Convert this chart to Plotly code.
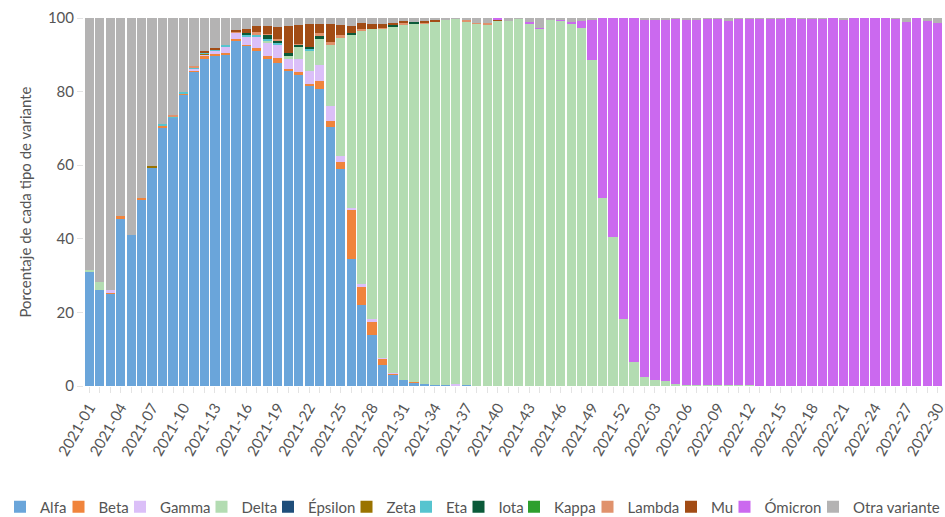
import plotly.graph_objects as go

weeks = [f"2021-{i:02d}" for i in range(1, 53)] + [f"2022-{i:02d}" for i in range(1, 31)]

alfa = [31.2, 26.0, 25.0, 45.5, 41.1, 50.8, 59.5, 70.3, 73.0, 79.0,
        85.4, 89.1, 89.7, 90.1, 93.8, 92.4, 91.1, 88.8, 87.7, 85.6,
        84.5, 81.6, 80.8, 70.3, 59.0, 34.4, 22.0, 13.8, 5.7, 3.0,
        1.5, 0.9, 0.5, 0.3, 0.2, 0.2, 0.3, 0, 0, 0,
        0, 0, 0, 0, 0, 0, 0, 0, 0, 0,
        0, 0, 0, 0, 0, 0, 0, 0, 0, 0,
        0, 0, 0, 0, 0, 0, 0, 0, 0, 0,
        0, 0, 0, 0, 0, 0, 0, 0, 0, 0,
        0, 0]
beta = [0, 0, 0.3, 0.6, 0, 0.4, 0, 0.5, 0, 0.6,
        0.4, 0.45, 0.5, 0.45, 0.5, 0.4, 0.8, 0.9, 1.5, 0.5,
        0.7, 0.6, 2.1, 1.8, 2.0, 13.5, 5.0, 3.6, 1.7, 0.3,
        0, 0.3, 0, 0, 0, 0, 0, 0, 0, 0,
        0, 0, 0, 0, 0, 0, 0, 0, 0, 0,
        0, 0, 0, 0, 0, 0, 0, 0, 0, 0,
        0, 0, 0, 0, 0, 0, 0, 0, 0, 0,
        0, 0, 0, 0, 0, 0, 0, 0, 0, 0,
        0, 0]
gamma = [0, 0, 0.8, 0, 0, 0, 0, 0, 0, 0,
         0.4, 0.6, 0.9, 1.5, 1.8, 2.2, 3.0, 3.7, 3.6, 2.7,
         3.7, 3.3, 4.3, 3.9, 1.4, 0.5, 0.6, 0.7, 0.3, 0.2,
         0, 0, 0, 0, 0, 0.3, 0, 0, 0, 0,
         0, 0, 0, 0, 0, 0, 0, 0, 0, 0,
         0, 0, 0, 0, 0, 0, 0, 0, 0, 0,
         0, 0, 0, 0, 0, 0, 0, 0, 0, 0,
         0, 0, 0, 0, 0, 0, 0, 0, 0, 0,
         0, 0]
delta = [0.3, 2.2, 0, 0, 0, 0, 0, 0, 0, 0,
         0, 0, 0, 0, 0, 0, 0, 0.4, 0, 0.9,
         3.3, 5.7, 7.2, 16.9, 32.4, 47.2, 69.1, 78.8, 89.4, 94.2,
         96.8, 97.4, 97.9, 98.8, 99.5, 99.3, 98.7, 98.5, 98.3, 99.2,
         99.3, 99.8, 98.5, 97.1, 99.7, 99.2, 98.6, 97.4, 88.6, 51.1,
         40.5, 18.1, 6.5, 2.5, 1.6, 1.4, 0.5, 0.4, 0.3, 0.3,
         0.3, 0.2, 0.2, 0.2, 0.1, 0.1, 0.1, 0, 0, 0,
         0, 0, 0, 0, 0, 0, 0, 0, 0, 0,
         0, 0]
epsilon = [0] * 82
zeta = [0, 0, 0, 0, 0, 0, 0.3, 0, 0, 0,
        0, 0.2, 0, 0, 0, 0, 0, 0, 0, 0,
        0, 0, 0, 0, 0, 0, 0, 0, 0, 0,
        0, 0, 0, 0, 0, 0, 0, 0, 0, 0,
        0, 0, 0, 0, 0, 0, 0, 0, 0, 0,
        0, 0, 0, 0, 0, 0, 0, 0, 0, 0,
        0, 0, 0, 0, 0, 0, 0, 0, 0, 0,
        0, 0, 0, 0, 0, 0, 0, 0, 0, 0,
        0, 0]
eta = [0, 0, 0, 0, 0, 0, 0, 0.5, 0.3, 0.4,
       0.4, 0.35, 0.35, 0.6, 0, 0.4, 0.6, 0.5, 0.5, 0,
       0, 0.5, 0, 0, 0, 0, 0, 0, 0, 0,
       0, 0, 0, 0, 0, 0, 0, 0, 0, 0,
       0, 0, 0, 0, 0, 0, 0, 0, 0, 0,
       0, 0, 0, 0, 0, 0, 0, 0, 0, 0,
       0, 0, 0, 0, 0, 0, 0, 0, 0, 0,
       0, 0, 0, 0, 0, 0, 0, 0, 0, 0,
       0, 0]
iota = [0, 0, 0, 0, 0, 0, 0, 0, 0, 0,
        0, 0, 0, 0, 0, 0.5, 0, 1.1, 0.7, 0.9,
        0.5, 0.3, 0.6, 0, 0, 0.4, 0, 0, 0, 0.3,
        0, 0.3, 0, 0, 0, 0, 0, 0, 0, 0,
        0, 0, 0, 0, 0, 0, 0, 0, 0, 0,
        0, 0, 0, 0, 0, 0, 0, 0, 0, 0,
        0, 0, 0, 0, 0, 0, 0, 0, 0, 0,
        0, 0, 0, 0, 0, 0, 0, 0, 0, 0,
        0, 0]
kappa = [0] * 82
lambda_ = [0, 0, 0, 0, 0, 0, 0, 0, 0.3, 0,
           0.4, 0, 0, 0, 0.3, 0, 0.8, 0.3, 0.2, 0,
           0.2, 0, 0.9, 0.5, 0.5, 0, 0.3, 0, 0.3, 0,
           0.3, 0, 0.3, 0, 0, 0, 0.5, 0.2, 0.4, 0.2,
           0, 0, 0, 0, 0, 0, 0, 0, 0, 0,
           0, 0, 0, 0, 0, 0, 0, 0, 0, 0,
           0, 0, 0, 0, 0, 0, 0, 0, 0, 0,
           0, 0, 0, 0, 0, 0, 0, 0, 0, 0,
           0, 0]
mu = [0, 0, 0, 0, 0, 0, 0, 0, 0, 0,
      0, 0.4, 0.45, 0, 0.3, 1.2, 1.5, 2.0, 3.4, 7.3,
      5.2, 6.3, 2.4, 4.9, 2.8, 1.9, 1.6, 1.6, 1.0, 0.7,
      0.7, 0, 0.4, 0.4, 0, 0, 0, 0, 0, 0.3,
      0, 0, 0, 0, 0, 0, 0, 0, 0, 0,
      0, 0, 0, 0, 0, 0, 0, 0, 0, 0,
      0, 0, 0, 0, 0, 0, 0, 0, 0, 0,
      0, 0, 0, 0, 0, 0, 0, 0, 0, 0,
      0, 0]
omicron = [0, 0, 0, 0, 0, 0, 0, 0, 0, 0,
           0, 0, 0, 0, 0, 0, 0, 0, 0, 0,
           0, 0, 0, 0, 0, 0, 0, 0, 0, 0,
           0, 0, 0, 0, 0, 0, 0, 0, 0, 0.3,
           0, 0, 0.4, 0.2, 0, 0.3, 0.4, 1.8, 10.9, 48.9,
           59.5, 81.9, 93.5, 97.1, 98.0, 98.3, 99.3, 99.1, 99.4, 99.5,
           99.5, 99.0, 99.6, 99.7, 99.8, 99.7, 99.8, 100, 99.8, 99.8,
           99.8, 100, 99.6, 100, 100, 100, 100, 99.9, 98.9, 100,
           99.1, 98.6]
otra = [68.5, 71.8, 73.9, 53.9, 58.9, 48.8, 40.2, 28.7, 26.4, 20.0,
        13.0, 8.9, 8.1, 7.35, 3.3, 2.9, 2.2, 2.3, 2.4, 2.1,
        1.9, 1.7, 1.7, 1.7, 1.9, 2.1, 1.4, 1.5, 1.6, 1.3,
        0.7, 1.1, 0.9, 0.5, 0.3, 0.2, 0.5, 1.3, 1.3, 0,
        0.7, 0.2, 1.1, 2.7, 0.3, 0.5, 1.0, 0.8, 0.5, 0,
        0, 0, 0, 0.4, 0.4, 0.3, 0.2, 0.5, 0.3, 0.2,
        0.2, 0.8, 0.2, 0.1, 0.1, 0.2, 0.1, 0, 0.2, 0.2,
        0.2, 0, 0.4, 0, 0, 0, 0, 0.1, 1.1, 0,
        0.9, 1.4]

series_names = ["Alfa", "Beta", "Gamma", "Delta", "Épsilon", "Zeta", "Eta",
                "Iota", "Kappa", "Lambda", "Mu", "Ómicron", "Otra variante"]
series_values = [alfa, beta, gamma, delta, epsilon, zeta, eta,
                 iota, kappa, lambda_, mu, omicron, otra]
series_colors = ["#6aa5da", "#f0843c", "#dbbff8", "#b3dcb2", "#1f4e7a", "#9a7300",
                 "#56c4cf", "#0b5a39", "#2e9f2e", "#e0926c", "#a24c15", "#cb69ef", "#b4b3b3"]
# left edge (pixels) of each single-entry legend box along the bottom row
legend_left_px = [0, 58.5, 120, 201.5, 268, 346.5, 406, 458.5, 514, 587.5, 671, 724.5, 813]

W, H = 945, 517
fig = go.Figure()
legend_layouts = {}
for i, (name, vals, color) in enumerate(zip(series_names, series_values, series_colors)):
    lg = "legend" if i == 0 else f"legend{i + 1}"
    fig.add_trace(go.Bar(
        x=weeks, y=vals, name=name, legend=lg, showlegend=True,
        marker=dict(color=color, line=dict(width=0)),
    ))
    legend_layouts[lg] = dict(
        orientation="h",
        xref="container", yref="container",
        x=legend_left_px[i] / W, xanchor="left",
        y=(H - 507) / H, yanchor="middle",
        font=dict(size=15, color="#555555"),
        itemwidth=30,
        bgcolor="rgba(0,0,0,0)",
        borderwidth=0,
    )

ticktext = [w if i % 3 == 0 else "" for i, w in enumerate(weeks)]

fig.update_layout(
    barmode="stack",
    bargap=0.12,
    width=W, height=H,
    showlegend=True,
    margin=dict(l=84, r=2, t=18, b=131),
    plot_bgcolor="white",
    paper_bgcolor="white",
    font=dict(family="Lato, 'Open Sans', sans-serif", size=14, color="#555555"),
    xaxis=dict(
        type="category",
        tickmode="array",
        tickvals=weeks,
        ticktext=ticktext,
        tickangle=-60,
        ticks="outside",
        ticklen=6,
        tickcolor="#e3e3e3",
        showgrid=False,
        showline=False,
        automargin=False,
        tickfont=dict(size=15, color="#555555"),
    ),
    yaxis=dict(
        range=[0, 100],
        tickvals=[0, 20, 40, 60, 80, 100],
        ticks="outside",
        ticklen=6,
        tickcolor="#e3e3e3",
        showgrid=False,
        zeroline=False,
        showline=False,
        automargin=False,
        title=dict(text="Porcentaje de cada tipo de variante", font=dict(size=15, color="#555555"), standoff=12),
        tickfont=dict(size=15, color="#555555"),
    ),
    **legend_layouts,
)

fig.write_html("out.html", config={"displayModeBar": False},
               post_script="document.body.style.margin='0px';")
